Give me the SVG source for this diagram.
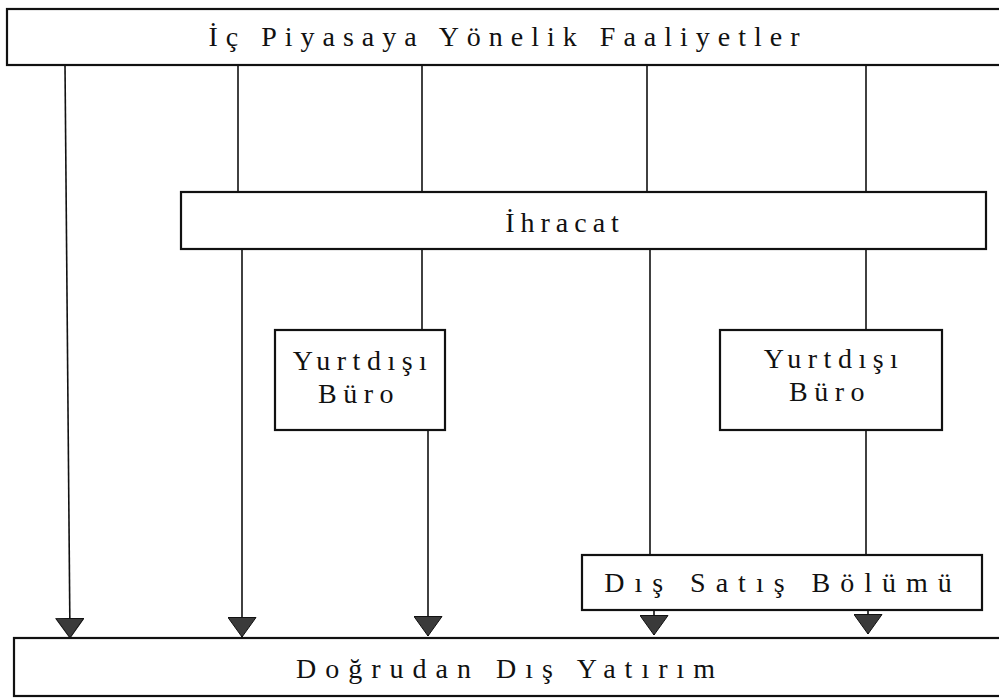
<svg xmlns="http://www.w3.org/2000/svg" width="999" height="700" viewBox="0 0 999 700">
<style>
.box{fill:#fff;stroke:#111;stroke-width:2.2}
.t{font-family:"Liberation Serif","Times New Roman",serif;font-size:28px;fill:#111;text-anchor:middle}
.ln{stroke:#111;stroke-width:1.6;fill:none}
</style>
<defs>
<marker id="ah" markerWidth="21" markerHeight="29" viewBox="0 0 21 29" refX="20" refY="14.5" orient="auto" markerUnits="userSpaceOnUse">
<path d="M0.5,0.5 L20,14.5 L0.5,28.5 Z" fill="#3a3a3a" stroke="#111" stroke-width="1"/>
</marker>
</defs>
<rect width="999" height="700" fill="#fff"/>
<g id="connectors">
<line class="ln" x1="65" y1="65" x2="70" y2="638" marker-end="url(#ah)"/>
<line class="ln" x1="238" y1="65" x2="238" y2="192"/>
<line class="ln" x1="242" y1="249" x2="242" y2="637" marker-end="url(#ah)"/>
<line class="ln" x1="422" y1="65" x2="422" y2="192"/>
<line class="ln" x1="422" y1="249" x2="422" y2="330"/>
<line class="ln" x1="428" y1="430" x2="428" y2="636" marker-end="url(#ah)"/>
<line class="ln" x1="647" y1="65" x2="647" y2="192"/>
<line class="ln" x1="650" y1="249" x2="650" y2="555"/>
<line class="ln" x1="654" y1="610" x2="654" y2="635" marker-end="url(#ah)"/>
<line class="ln" x1="866" y1="65" x2="866" y2="192"/>
<line class="ln" x1="866" y1="249" x2="866" y2="330"/>
<line class="ln" x1="866" y1="430" x2="866" y2="555"/>
<line class="ln" x1="868" y1="610" x2="868" y2="634" marker-end="url(#ah)"/>
</g>
<g id="n-ic">
<rect class="box" x="7" y="9" width="1000" height="56"/>
<text class="t" x="508" y="46" letter-spacing="8">İç Piyasaya Yönelik Faaliyetler</text>
</g>
<g id="n-ihracat">
<rect class="box" x="181" y="192" width="805" height="57"/>
<text class="t" x="565" y="232" letter-spacing="6">İhracat</text>
</g>
<g id="n-buro1">
<rect class="box" x="275" y="330" width="170" height="100"/>
<text class="t" x="363" y="370" letter-spacing="6.5">Yurtdışı</text>
<text class="t" x="359" y="403" letter-spacing="6.5">Büro</text>
</g>
<g id="n-buro2">
<rect class="box" x="720" y="330" width="222" height="100"/>
<text class="t" x="834" y="368" letter-spacing="6.5">Yurtdışı</text>
<text class="t" x="830" y="401" letter-spacing="6.5">Büro</text>
</g>
<g id="n-dissatis">
<rect class="box" x="582" y="555" width="400" height="55"/>
<text class="t" x="783" y="592" letter-spacing="10">Dış Satış Bölümü</text>
</g>
<g id="n-dogrudan">
<rect class="box" x="14" y="638" width="995" height="58"/>
<text class="t" x="510" y="678" letter-spacing="9">Doğrudan Dış Yatırım</text>
</g>
</svg>
